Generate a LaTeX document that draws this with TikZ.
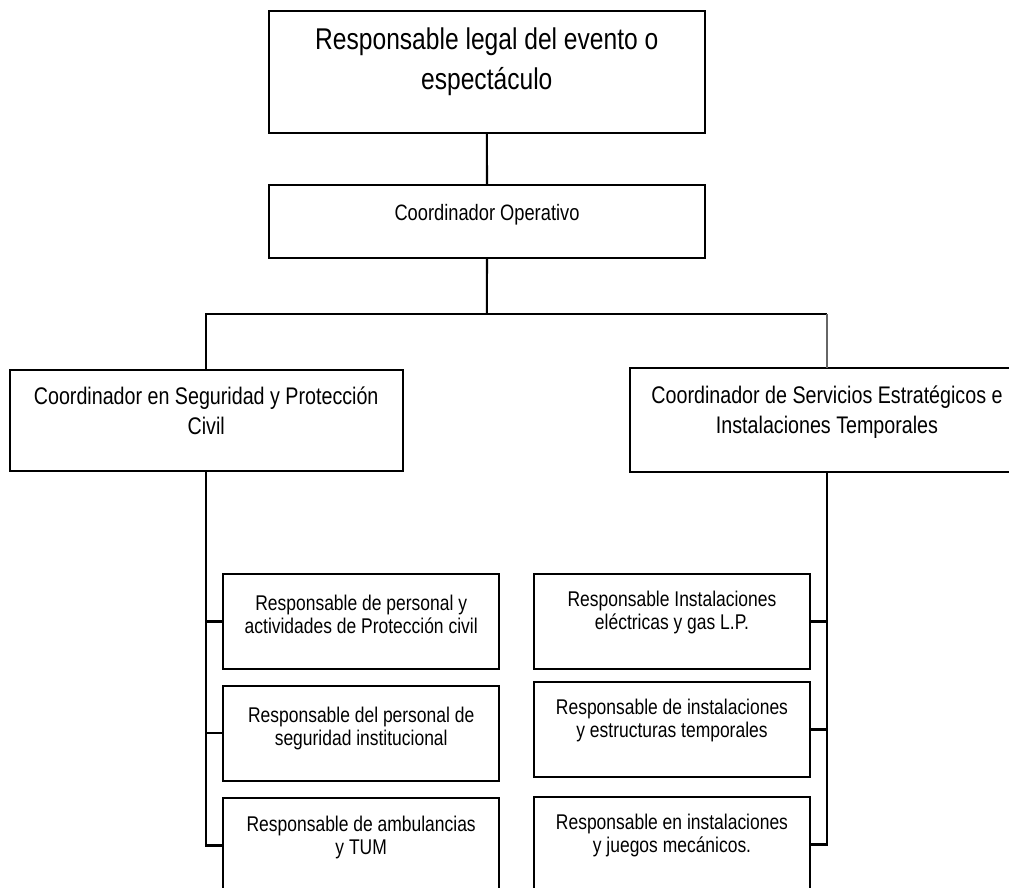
\documentclass[tikz,border=0pt]{standalone}
\usepackage{fontspec}
\setmainfont{Liberation Sans}[FakeStretch=0.82]
\newcommand\fsA{\fontsize{30}{40}\selectfont}
\newcommand\fsB{\fontsize{24}{30}\selectfont}
\newcommand\fsC{\fontsize{22.3}{28}\selectfont}
\newcommand\fsD{\fontsize{21.3}{23}\selectfont}
\tikzset{
  box/.style={draw=black, line width=2.1pt, inner sep=0pt, outer sep=0pt, anchor=north west},
  conn/.style={draw=black, line width=2.1pt},
  thinconn/.style={draw=black!60, line width=1.3pt},
  lbl/.style={anchor=base, inner sep=0pt, outer sep=0pt, text=black},
}
\begin{document}
\begin{tikzpicture}[x=1pt,y=-1pt]
\useasboundingbox (0,0) rectangle (1009,888);
\clip (0,0) rectangle (1009,888);
% boxes
\node[box, minimum width=435.7pt, minimum height=122.3pt] (top) at (269,10.7) {};
\node[box, minimum width=436pt, minimum height=72.7pt] (co) at (269,185) {};
\node[box, minimum width=393pt, minimum height=101pt] (left) at (9.7,370) {};
\node[box, minimum width=393.4pt, minimum height=103.7pt] (right) at (630.3,368) {};
\node[box, minimum width=275.7pt, minimum height=95pt] (s1) at (223.3,574) {};
\node[box, minimum width=275.7pt, minimum height=94.7pt] (s2) at (223.3,686) {};
\node[box, minimum width=275.7pt, minimum height=95pt] (s3) at (223.3,798) {};
\node[box, minimum width=276pt, minimum height=95pt] (r1) at (534,574) {};
\node[box, minimum width=276pt, minimum height=95pt] (r2) at (534,682) {};
\node[box, minimum width=276pt, minimum height=95pt] (r3) at (534,797) {};
% texts
\node[lbl, font=\fsA] (ttop) at (486.8,50) {\parbox[t]{420pt}{\centering Responsable legal del evento o\\ espectáculo}};
\node[lbl, font=\fsC] (tco) at (487,220) {\parbox[t]{420pt}{\centering Coordinador Operativo}};
\node[lbl, font=\fsB] (tleft) at (206.2,404) {\parbox[t]{385pt}{\centering Coordinador en Seguridad y Protección\\ Civil}};
\node[lbl, font=\fsB] (tright) at (827,403.5) {\parbox[t]{385pt}{\centering Coordinador de Servicios Estratégicos e\\ Instalaciones Temporales}};
\node[lbl, font=\fsD] (ts1) at (361.2,610) {\parbox[t]{270pt}{\centering Responsable de personal y\\ actividades de Protección civil}};
\node[lbl, font=\fsD] (ts2) at (361.2,722) {\parbox[t]{270pt}{\centering Responsable del personal de\\ seguridad institucional}};
\node[lbl, font=\fsD] (ts3) at (361.2,831) {\parbox[t]{270pt}{\centering Responsable de ambulancias\\ y TUM}};
\node[lbl, font=\fsD] (tr1) at (672,606) {\parbox[t]{270pt}{\centering Responsable Instalaciones\\ eléctricas y gas L.P.}};
\node[lbl, font=\fsD] (tr2) at (672,714) {\parbox[t]{270pt}{\centering Responsable de instalaciones\\ y estructuras temporales}};
\node[lbl, font=\fsD] (tr3) at (672,829) {\parbox[t]{270pt}{\centering Responsable en instalaciones\\ y juegos mecánicos.}};
% connectors
\coordinate (bus) at (486.8,314);
\draw[conn] (top.south) -- (co.north);
\draw[conn] (co.south) -- (bus);
\draw[conn] (left.north) -- (left.north |- bus) -- (bus -| right.north);
\draw[thinconn] (bus -| right.north) -- (right.north);
\draw[conn] (left.south) |- (s1.west);
\draw[conn] (left.south) |- (s2.west);
\draw[conn] (left.south) |- (s3.west);
\draw[conn] (right.south) |- (r1.east);
\draw[conn] (right.south) |- (r2.east);
\draw[conn] (right.south) |- (r3.east);
\end{tikzpicture}
\end{document}
